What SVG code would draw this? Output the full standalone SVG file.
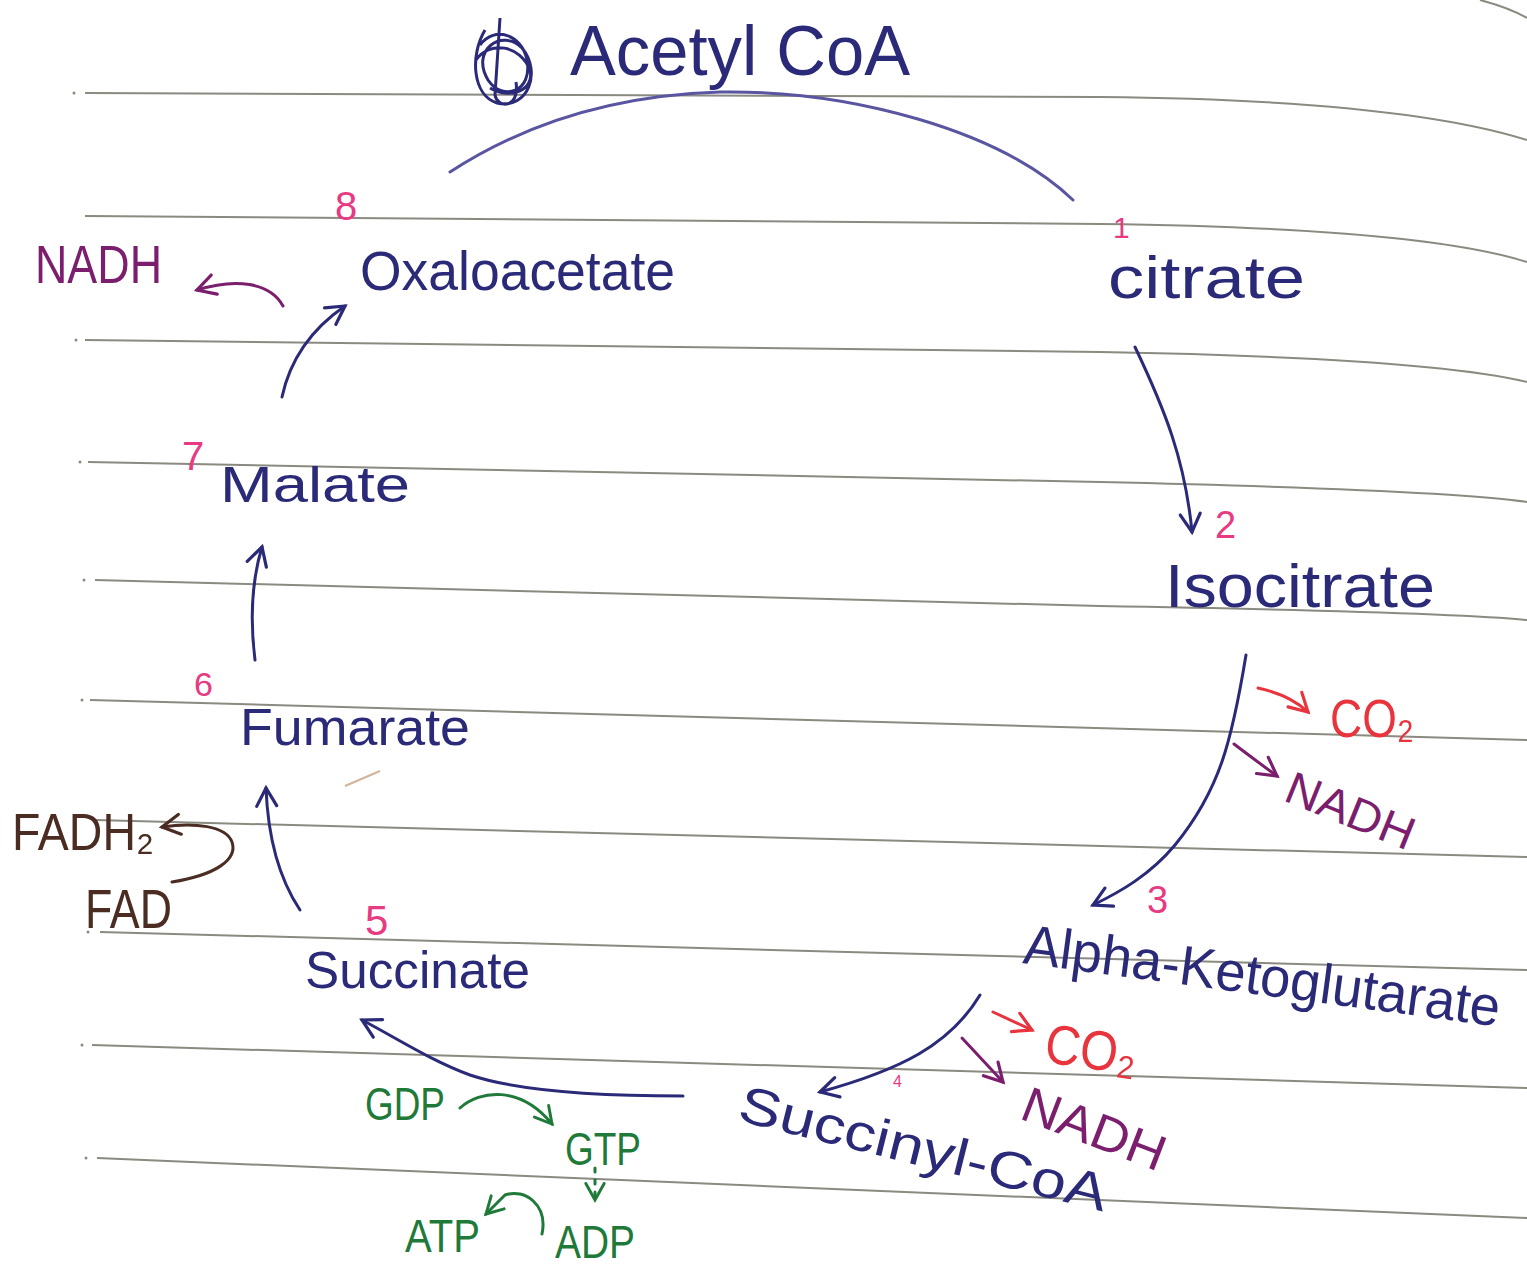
<svg xmlns="http://www.w3.org/2000/svg" width="1527" height="1268" viewBox="0 0 1527 1268">
<defs>
<style>
.t{font-family:"Liberation Sans","DejaVu Sans",sans-serif;}
.navy{fill:#2b2a78;}
.pink{fill:#e83a82;}
.purple{fill:#7b1e6e;}
.red{fill:#e8343c;}
.brown{fill:#4a2c22;}
.green{fill:#1f7a3a;}
.rule{fill:none;stroke:#8a8a80;stroke-width:2;}
.c{fill:none;stroke-width:3;stroke-linecap:round;stroke-linejoin:round;}
</style>
<marker id="ah-navy" viewBox="0 0 12 12" refX="10" refY="6" markerWidth="24" markerHeight="24" markerUnits="userSpaceOnUse" orient="auto"><path d="M1,1 L10,6 L1,11" fill="none" stroke="#2b2a78" stroke-width="1.6" stroke-linecap="round"/></marker>
<marker id="ah-purple" viewBox="0 0 12 12" refX="10" refY="6" markerWidth="24" markerHeight="24" markerUnits="userSpaceOnUse" orient="auto"><path d="M1,1 L10,6 L1,11" fill="none" stroke="#7b1e6e" stroke-width="1.6" stroke-linecap="round"/></marker>
<marker id="ah-red" viewBox="0 0 12 12" refX="10" refY="6" markerWidth="24" markerHeight="24" markerUnits="userSpaceOnUse" orient="auto"><path d="M1,1 L10,6 L1,11" fill="none" stroke="#e8343c" stroke-width="1.6" stroke-linecap="round"/></marker>
<marker id="ah-green" viewBox="0 0 12 12" refX="10" refY="6" markerWidth="22" markerHeight="22" markerUnits="userSpaceOnUse" orient="auto"><path d="M1,1 L10,6 L1,11" fill="none" stroke="#1f7a3a" stroke-width="1.6" stroke-linecap="round"/></marker>
<marker id="ah-brown" viewBox="0 0 12 12" refX="10" refY="6" markerWidth="24" markerHeight="24" markerUnits="userSpaceOnUse" orient="auto"><path d="M1,1 L10,6 L1,11" fill="none" stroke="#4a2c22" stroke-width="1.6" stroke-linecap="round"/></marker>
</defs>
<rect width="1527" height="1268" fill="#ffffff"/>

<g id="paper-lines">
<path class="rule" d="M1480,0 Q1510,8 1527,18"/>
<path class="rule" d="M85,93 L1100,97 Q1400,100 1527,140"/>
<path class="rule" d="M85,216 L1100,224 Q1420,228 1527,262"/>
<path class="rule" d="M85,340 L1100,352 Q1430,358 1527,382"/>
<path class="rule" d="M88,462 L1100,482 Q1450,490 1527,502"/>
<path class="rule" d="M95,580 L1100,606 Q1450,612 1527,620"/>
<path class="rule" d="M90,700 L1527,740"/>
<path class="rule" d="M95,820 L1527,857"/>
<path class="rule" d="M100,932 L1527,970"/>
<path class="rule" d="M92,1045 L1527,1088"/>
<path class="rule" d="M97,1158 L1527,1218"/>
<g fill="#8a8a80">
<circle cx="74" cy="93" r="1.5"/><circle cx="76" cy="340" r="1.5"/><circle cx="80" cy="462" r="1.5"/><circle cx="84" cy="580" r="1.5"/><circle cx="82" cy="700" r="1.5"/><circle cx="88" cy="932" r="1.5"/><circle cx="82" cy="1045" r="1.5"/><circle cx="86" cy="1158" r="1.5"/>
</g>
<path d="M345,786 L380,771" stroke="#d2b49c" stroke-width="2" fill="none"/>
</g>

<g id="connectors">
<path class="c" stroke="#5a55a0" stroke-width="2.5" d="M450,172 C530,120 620,95 720,92 C850,90 1000,130 1073,200"/>
<path class="c" stroke="#2b2a78" marker-end="url(#ah-navy)" d="M1135,347 C1165,410 1185,460 1192,532"/>
<path class="c" stroke="#2b2a78" marker-end="url(#ah-navy)" d="M1246,655 C1232,740 1220,790 1175,845 C1150,875 1120,892 1093,905"/>
<path class="c" stroke="#e8343c" marker-end="url(#ah-red)" d="M1258,688 Q1290,695 1308,712"/>
<path class="c" stroke="#7b1e6e" marker-end="url(#ah-purple)" d="M1234,744 Q1255,760 1277,776"/>
<path class="c" stroke="#2b2a78" marker-end="url(#ah-navy)" d="M980,995 C950,1045 900,1070 820,1092"/>
<path class="c" stroke="#e8343c" marker-end="url(#ah-red)" d="M993,1012 L1032,1030"/>
<path class="c" stroke="#7b1e6e" marker-end="url(#ah-purple)" d="M962,1038 L1003,1082"/>
<path class="c" stroke="#2b2a78" stroke-width="2.5" marker-end="url(#ah-navy)" d="M683,1096 C600,1096 520,1092 470,1075 C430,1060 400,1040 362,1020"/>
<path class="c" stroke="#1f7a3a" marker-end="url(#ah-green)" d="M460,1108 C480,1090 520,1085 552,1124"/>
<path class="c" stroke="#1f7a3a" stroke-width="2.5" stroke-dasharray="4 8" marker-end="url(#ah-green)" d="M595,1168 L595,1200"/>
<path class="c" stroke="#1f7a3a" marker-end="url(#ah-green)" d="M542,1234 C548,1205 525,1188 505,1195 L486,1214"/>
<path class="c" stroke="#2b2a78" marker-end="url(#ah-navy)" d="M300,910 C280,880 268,840 266,788"/>
<path class="c" stroke="#4a2c22" marker-end="url(#ah-brown)" d="M172,882 C215,875 238,860 232,842 C226,826 195,822 162,827"/>
<path class="c" stroke="#2b2a78" marker-end="url(#ah-navy)" d="M255,660 C250,620 252,580 262,547"/>
<path class="c" stroke="#2b2a78" marker-end="url(#ah-navy)" d="M282,397 C290,360 310,330 345,306"/>
<path class="c" stroke="#7b1e6e" marker-end="url(#ah-purple)" d="M283,306 C270,282 235,278 197,290"/>
</g>

<g id="node-acetyl-coa">
<path d="M485,30 C470,55 472,95 497,103 C528,110 542,72 522,48 C502,28 470,50 488,80 C503,102 533,92 527,60 C522,35 495,25 480,45 M500,18 L495,95 C497,108 520,110 516,82 M476,60 C490,40 520,45 530,70 C535,90 510,100 490,88" fill="none" stroke="#2b2a78" stroke-width="3"/>
<text class="t navy" x="570" y="75" font-size="70" textLength="340" lengthAdjust="spacingAndGlyphs">Acetyl CoA</text>
</g>

<g id="node-oxaloacetate">
<text class="t pink" x="335" y="220" font-size="40">8</text>
<text class="t navy" x="360" y="290" font-size="56" textLength="315" lengthAdjust="spacingAndGlyphs">Oxaloacetate</text>
</g>

<g id="node-nadh-8">
<text class="t purple" x="35" y="283" font-size="54" textLength="127" lengthAdjust="spacingAndGlyphs">NADH</text>
</g>

<g id="node-citrate">
<text class="t pink" x="1113" y="238" font-size="30">1</text>
<text class="t navy" x="1108" y="298" font-size="60" textLength="197" lengthAdjust="spacingAndGlyphs">citrate</text>
</g>

<g id="node-isocitrate">
<text class="t pink" x="1215" y="538" font-size="38">2</text>
<text class="t navy" x="1165" y="607" font-size="62" textLength="270" lengthAdjust="spacingAndGlyphs">Isocitrate</text>
</g>

<g id="node-co2-3">
<text class="t red" x="1330" y="737" font-size="54" textLength="84" lengthAdjust="spacingAndGlyphs">CO₂</text>
</g>

<g id="node-nadh-3">
<text class="t purple" x="1282" y="800" font-size="46" textLength="135" lengthAdjust="spacingAndGlyphs" transform="rotate(22 1282 800)">NADH</text>
</g>

<g id="node-alpha-ketoglutarate">
<text class="t pink" x="1147" y="913" font-size="38">3</text>
<text class="t navy" x="1022" y="963" font-size="56" textLength="480" lengthAdjust="spacingAndGlyphs" transform="rotate(7.6 1022 963)">Alpha-Ketoglutarate</text>
</g>

<g id="node-co2-4">
<text class="t red" x="1043" y="1062" font-size="56" textLength="92" lengthAdjust="spacingAndGlyphs" transform="rotate(8 1043 1062)">CO₂</text>
</g>

<g id="node-nadh-4">
<text class="t purple" x="1018" y="1118" font-size="50" textLength="150" lengthAdjust="spacingAndGlyphs" transform="rotate(21 1018 1118)">NADH</text>
</g>

<g id="node-succinyl-coa">
<text class="t pink" x="893" y="1087" font-size="16">4</text>
<text class="t navy" x="736" y="1120" font-size="52" textLength="378" lengthAdjust="spacingAndGlyphs" transform="rotate(14 736 1120)">Succinyl-CoA</text>
</g>

<g id="node-gdp-gtp">
<text class="t green" x="365" y="1120" font-size="46" textLength="80" lengthAdjust="spacingAndGlyphs">GDP</text>
<text class="t green" x="565" y="1165" font-size="46" textLength="76" lengthAdjust="spacingAndGlyphs">GTP</text>
<text class="t green" x="405" y="1252" font-size="46" textLength="75" lengthAdjust="spacingAndGlyphs">ATP</text>
<text class="t green" x="555" y="1258" font-size="46" textLength="80" lengthAdjust="spacingAndGlyphs">ADP</text>
</g>

<g id="node-succinate">
<text class="t pink" x="365" y="935" font-size="42">5</text>
<text class="t navy" x="305" y="988" font-size="52" textLength="225" lengthAdjust="spacingAndGlyphs">Succinate</text>
</g>

<g id="node-fad">
<text class="t brown" x="12" y="850" font-size="52" textLength="142" lengthAdjust="spacingAndGlyphs">FADH₂</text>
<text class="t brown" x="85" y="928" font-size="56" textLength="87" lengthAdjust="spacingAndGlyphs">FAD</text>
</g>

<g id="node-fumarate">
<text class="t pink" x="194" y="696" font-size="34">6</text>
<text class="t navy" x="240" y="745" font-size="52" textLength="230" lengthAdjust="spacingAndGlyphs">Fumarate</text>
</g>

<g id="node-malate">
<text class="t pink" x="182" y="470" font-size="40">7</text>
<text class="t navy" x="220" y="502" font-size="50" textLength="190" lengthAdjust="spacingAndGlyphs">Malate</text>
</g>
</svg>
